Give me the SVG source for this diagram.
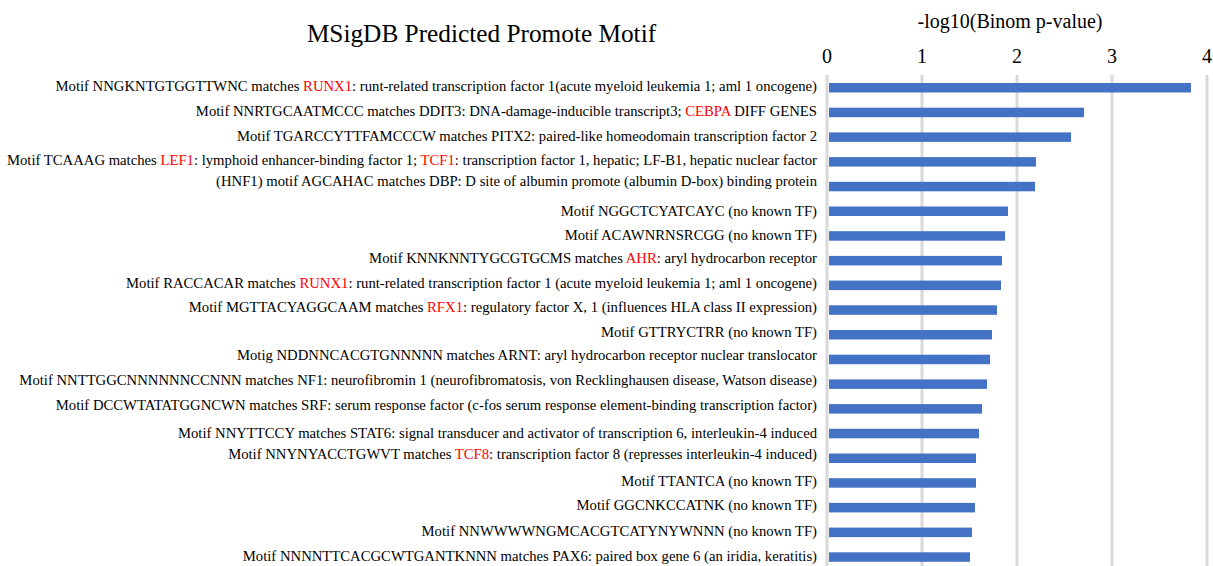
<svg xmlns="http://www.w3.org/2000/svg" width="1213" height="566" viewBox="0 0 1213 566" font-family="'Liberation Serif', 'DejaVu Serif', serif">
<style>
text{font-family:'Liberation Serif','DejaVu Serif',serif;fill:#000}
.lbl{font-size:14.7px;text-anchor:end}
.red{fill:#ff0000}
.bar{fill:#4472c4}
.grid{stroke:#d9d9d9;stroke-width:3}
.tick{font-size:20px;text-anchor:middle}
</style>
<rect width="1213" height="566" fill="#ffffff"/>
<g id="title"><text x="481.5" y="42" font-size="25.3" text-anchor="middle">MSigDB Predicted Promote Motif</text></g>
<g id="axis">
<text x="1010" y="28" font-size="20" text-anchor="middle">-log10(Binom p-value)</text>
<text class="tick" x="827" y="63">0</text>
<text class="tick" x="922" y="63">1</text>
<text class="tick" x="1017" y="63">2</text>
<text class="tick" x="1112" y="63">3</text>
<text class="tick" x="1207" y="63">4</text>
</g>
<g id="gridlines">
<line class="grid" x1="827" y1="75" x2="827" y2="566"/>
<line class="grid" x1="922" y1="75" x2="922" y2="566"/>
<line class="grid" x1="1017" y1="75" x2="1017" y2="566"/>
<line class="grid" x1="1112" y1="75" x2="1112" y2="566"/>
<line class="grid" x1="1207" y1="75" x2="1207" y2="566"/>
</g>
<g id="row1"><text class="lbl" x="817" y="91">Motif NNGKNTGTGGTTWNC matches <tspan class="red">RUNX1</tspan>: runt-related transcription factor 1(acute myeloid leukemia 1; aml 1 oncogene)</text><rect class="bar" x="829" y="83" width="362" height="9.5"/></g>
<g id="row2"><text class="lbl" x="817" y="116">Motif NNRTGCAATMCCC matches DDIT3: DNA-damage-inducible transcript3; <tspan class="red">CEBPA</tspan> DIFF GENES</text><rect class="bar" x="829" y="107.7" width="255" height="9.5"/></g>
<g id="row3"><text class="lbl" x="817" y="141">Motif TGARCCYTTFAMCCCW matches PITX2: paired-like homeodomain transcription factor 2</text><rect class="bar" x="829" y="132.4" width="242" height="9.5"/></g>
<g id="row4"><text class="lbl" x="817" y="165">Motif TCAAAG matches <tspan class="red">LEF1</tspan>: lymphoid enhancer-binding factor 1; <tspan class="red">TCF1</tspan>: transcription factor 1, hepatic; LF-B1, hepatic nuclear factor</text><rect class="bar" x="829" y="157.1" width="207" height="9.5"/></g>
<g id="row5"><text class="lbl" x="817" y="186">(HNF1) motif AGCAHAC matches DBP: D site of albumin promote (albumin D-box) binding protein</text><rect class="bar" x="829" y="181.8" width="206" height="9.5"/></g>
<g id="row6"><text class="lbl" x="817" y="216">Motif NGGCTCYATCAYC (no known TF)</text><rect class="bar" x="829" y="206.5" width="179" height="9.5"/></g>
<g id="row7"><text class="lbl" x="817" y="240">Motif ACAWNRNSRCGG (no known TF)</text><rect class="bar" x="829" y="231.2" width="176" height="9.5"/></g>
<g id="row8"><text class="lbl" x="817" y="263">Motif KNNKNNTYGCGTGCMS matches <tspan class="red">AHR</tspan>: aryl hydrocarbon receptor</text><rect class="bar" x="829" y="255.9" width="173" height="9.5"/></g>
<g id="row9"><text class="lbl" x="817" y="288">Motif RACCACAR matches <tspan class="red">RUNX1</tspan>: runt-related transcription factor 1 (acute myeloid leukemia 1; aml 1 oncogene)</text><rect class="bar" x="829" y="280.6" width="172" height="9.5"/></g>
<g id="row10"><text class="lbl" x="817" y="312">Motif MGTTACYAGGCAAM matches <tspan class="red">RFX1</tspan>: regulatory factor X, 1 (influences HLA class II expression)</text><rect class="bar" x="829" y="305.3" width="168" height="9.5"/></g>
<g id="row11"><text class="lbl" x="817" y="337">Motif GTTRYCTRR (no known TF)</text><rect class="bar" x="829" y="330" width="163" height="9.5"/></g>
<g id="row12"><text class="lbl" x="817" y="360">Motig NDDNNCACGTGNNNNN matches ARNT: aryl hydrocarbon receptor nuclear translocator</text><rect class="bar" x="829" y="354.7" width="161" height="9.5"/></g>
<g id="row13"><text class="lbl" x="817" y="385">Motif NNTTGGCNNNNNNCCNNN matches NF1: neurofibromin 1 (neurofibromatosis, von Recklinghausen disease, Watson disease)</text><rect class="bar" x="829" y="379.4" width="158" height="9.5"/></g>
<g id="row14"><text class="lbl" x="817" y="410">Motif DCCWTATATGGNCWN matches SRF: serum response factor (c-fos serum response element-binding transcription factor)</text><rect class="bar" x="829" y="404.1" width="153" height="9.5"/></g>
<g id="row15"><text class="lbl" x="817" y="438">Motif NNYTTCCY matches STAT6: signal transducer and activator of transcription 6, interleukin-4 induced</text><rect class="bar" x="829" y="428.8" width="150" height="9.5"/></g>
<g id="row16"><text class="lbl" x="817" y="459">Motif NNYNYACCTGWVT matches <tspan class="red">TCF8</tspan>: transcription factor 8 (represses interleukin-4 induced)</text><rect class="bar" x="829" y="453.5" width="147" height="9.5"/></g>
<g id="row17"><text class="lbl" x="817" y="486">Motif TTANTCA (no known TF)</text><rect class="bar" x="829" y="478.2" width="147" height="9.5"/></g>
<g id="row18"><text class="lbl" x="817" y="510">Motif GGCNKCCATNK (no known TF)</text><rect class="bar" x="829" y="502.9" width="146" height="9.5"/></g>
<g id="row19"><text class="lbl" x="817" y="536">Motif NNWWWWNGMCACGTCATYNYWNNN (no known TF)</text><rect class="bar" x="829" y="527.6" width="143" height="9.5"/></g>
<g id="row20"><text class="lbl" x="817" y="561">Motif NNNNTTCACGCWTGANTKNNN matches PAX6: paired box gene 6 (an iridia, keratitis)</text><rect class="bar" x="829" y="552.3" width="141" height="9.5"/></g>
</svg>
